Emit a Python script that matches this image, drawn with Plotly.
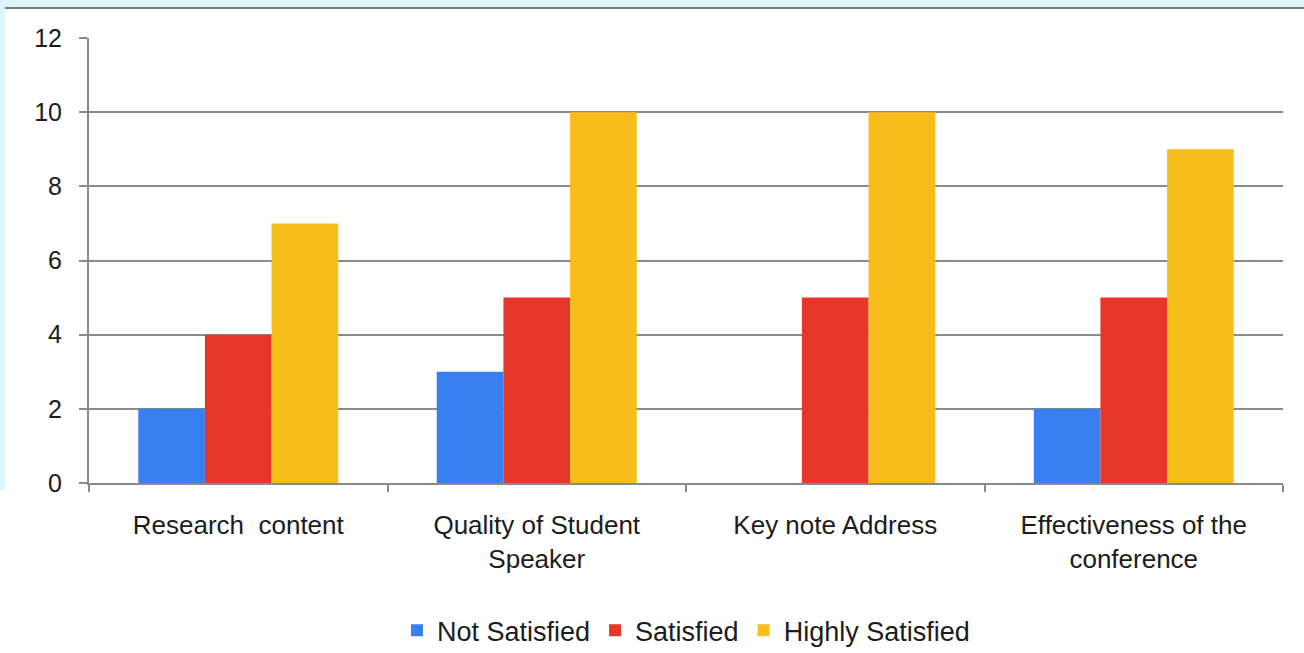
import plotly.graph_objects as go

categories = ["Research  content", "Quality of Student<br>Speaker", "Key note Address", "Effectiveness of the<br>conference"]
not_satisfied = [2, 3, 0, 2]
satisfied = [4, 5, 5, 5]
highly_satisfied = [7, 10, 10, 9]
y_ticks = [0, 2, 4, 6, 8, 10, 12]

FONT = "Liberation Sans, Arial, sans-serif"
TXT = "#1c1c1c"
GRID = "#8a8a8a"

fig = go.Figure()
fig.add_trace(go.Bar(name="Not Satisfied", x=categories, y=not_satisfied,
                     marker=dict(color="#3a7ff0", line=dict(width=0))))
fig.add_trace(go.Bar(name="Satisfied", x=categories, y=satisfied,
                     marker=dict(color="#e7362a", line=dict(width=0))))
fig.add_trace(go.Bar(name="Highly Satisfied", x=categories, y=highly_satisfied,
                     marker=dict(color="#f8bd1a", line=dict(width=0))))

fig.update_layout(
    width=1304, height=653,
    barmode="group", bargap=0.33, bargroupgap=0,
    paper_bgcolor="white", plot_bgcolor="white",
    margin=dict(l=89, r=21, t=38, b=170, autoexpand=False),
    font=dict(family=FONT, size=25, color=TXT),
    showlegend=True,
    legend=dict(orientation="h", x=0.5, xanchor="center", y=-0.332, yanchor="middle",
                yref="paper", font=dict(size=27, color=TXT),
                itemwidth=30, traceorder="normal"),
    xaxis=dict(showgrid=False, showline=True, linecolor=GRID, linewidth=2,
               ticks="outside", tickson="boundaries", ticklen=7, tickcolor=GRID,
               tickwidth=2, tickfont=dict(size=26, color=TXT), ticklabelstandoff=18),
    yaxis=dict(range=[0, 12], tickvals=y_ticks, showgrid=True, gridcolor=GRID, gridwidth=2,
               showline=True, linecolor=GRID, linewidth=2, ticks="outside", ticklen=8,
               tickcolor=GRID, tickwidth=2, zeroline=False,
               tickfont=dict(size=25, color=TXT), ticklabelstandoff=12),
    shapes=[
        dict(type="rect", xref="paper", yref="paper", x0=-0.0745, x1=1.0176, y0=1.0854, y1=1.0674,
             line=dict(width=0), fillcolor="#dcf6fb", layer="below"),
        dict(type="line", xref="paper", yref="paper", x0=-0.0704, x1=1.0176, y0=1.0674, y1=1.0674,
             line=dict(color="#7a7a7a", width=2)),
        dict(type="rect", xref="paper", yref="paper", x0=-0.0745, x1=-0.0704, y0=1.0674, y1=-0.0157,
             line=dict(width=0), fillcolor="#dcf6fb", layer="below"),
    ],
)

fig.write_html("out.html", config={"displayModeBar": False},
               post_script="document.body.style.margin='0';document.body.style.padding='0';document.body.style.overflow='hidden';")
